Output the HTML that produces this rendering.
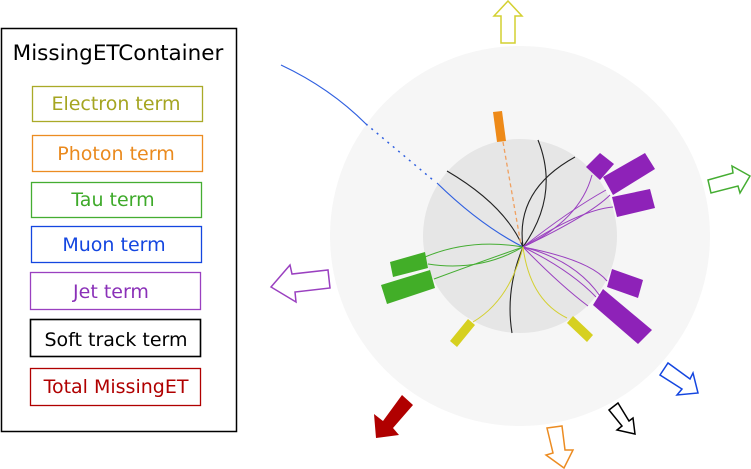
<!DOCTYPE html>
<html><head><meta charset="utf-8"><style>
html,body{margin:0;padding:0;background:#fff;}
svg{display:block;}
text{font-family:"DejaVu Sans","Liberation Sans",sans-serif;}
</style></head><body>
<svg width="751" height="469" viewBox="0 0 751 469" xmlns="http://www.w3.org/2000/svg">
<!-- legend -->
<rect x="1.5" y="28.5" width="235" height="403" fill="#fff" stroke="#000" stroke-width="1.5"/>
<text x="118" y="60" font-size="21.5" text-anchor="middle" fill="#000">MissingETContainer</text>
<g fill="none" stroke-width="1.3">
<rect x="32.5" y="86.5" width="170" height="35" stroke="#aaaa28"/>
<rect x="32.5" y="135.5" width="170" height="36" stroke="#ec8c22"/>
<rect x="31.5" y="182.5" width="170" height="35" stroke="#45ad32"/>
<rect x="31.5" y="226.5" width="170" height="36" stroke="#1446e0"/>
<rect x="30.5" y="272.5" width="170" height="37" stroke="#9a40c0"/>
<rect x="30.5" y="319.5" width="170" height="37" stroke="#000" stroke-width="1.6"/>
<rect x="30.5" y="368.5" width="170" height="37" stroke="#b00000"/>
</g>
<g font-size="19" text-anchor="middle">
<text x="116" y="110" fill="#a5a521">Electron term</text>
<text x="116" y="160" fill="#ea8a1e">Photon term</text>
<text x="113" y="206" fill="#3eaa2a">Tau term</text>
<text x="114" y="251" fill="#1446e0">Muon term</text>
<text x="111" y="298" fill="#8a30b8">Jet term</text>
<text x="116" y="346" fill="#000">Soft track term</text>
<text x="116" y="393" fill="#b00000">Total MissingET</text>
</g>
<!-- detector -->
<circle cx="520" cy="236" r="190" fill="#f6f6f6"/>
<circle cx="520" cy="236" r="97" fill="#e6e6e6"/>
<!-- blue muon -->
<path d="M281,65 Q330,88 366,124" fill="none" stroke="#3060e0" stroke-width="1.2"/>
<path d="M366,124 L433,180" fill="none" stroke="#3060e0" stroke-width="1.5" stroke-dasharray="2,5"/>
<path d="M437,183 Q480,225 523,247" fill="none" stroke="#3060e0" stroke-width="1.2"/>
<!-- black -->
<g fill="none" stroke="#222" stroke-width="1.1">
<path d="M447,171 Q505,205 523,247"/>
<path d="M575,157 Q515,190 523,247"/>
<path d="M538,140 Q560,195 523,247 Q505,290 512,333"/>
</g>
<!-- orange dashed -->
<path d="M503,142 L521,245" stroke="#f0a060" stroke-width="1.3" stroke-dasharray="4,3" fill="none"/>
<!-- green tracks -->
<g fill="none" stroke="#45ad32" stroke-width="1">
<path d="M425,257 Q470,238 523,247"/>
<path d="M428,264 Q480,272 523,247"/>
<path d="M434,279 Q480,262 523,247"/>
</g>
<!-- purple tracks -->
<g fill="none" stroke="#9a40c0" stroke-width="1">
<path d="M523,247 Q580,220 592,175"/>
<path d="M523,247 Q570,210 606,190"/>
<path d="M523,247 Q590,215 610,195"/>
<path d="M523,247 Q580,210 613,207"/>
<path d="M523,247 Q590,260 607,281"/>
<path d="M523,247 Q575,260 600,296"/>
<path d="M523,247 Q570,270 596,297"/>
<path d="M523,247 Q560,285 588,306"/>
</g>
<!-- yellow tracks -->
<g fill="none" stroke="#d4d030" stroke-width="1">
<path d="M523,247 Q510,300 473,322"/>
<path d="M523,247 Q530,300 567,318"/>
</g>
<!-- bars -->
<polygon points="493,112 502,111 506,141 497,142" fill="#ee8a18"/>
<g fill="#42ae28">
<polygon points="390,262 425,252 428,268 393,277"/>
<polygon points="381,285 430,270 435,288 387,304"/>
</g>
<g fill="#d6d020">
<polygon points="450,341 468,319 475,325 457,347"/>
<polygon points="567,323 573,316 593,335 587,342"/>
</g>
<g fill="#8e22b8">
<polygon points="586,167 600,153 614,164 600,180"/>
<polygon points="603,177 645,153 655,169 613,195"/>
<polygon points="612,197 650,189 655,208 617,217"/>
<polygon points="612,269 643,280 638,298 607,287"/>
<polygon points="593,305 603,289 652,330 638,344"/>
</g>
<!-- arrows -->
<g fill="#fff" stroke-width="1.5" stroke-linejoin="miter">
<polygon points="508,1 522,16 515,16 515,43 501,43 501,16 494,16" stroke="#d4d030"/>
<polygon points="708,180 733,173 732,166 750,176 740,193 738,186 711,193" stroke="#45ad32"/>
<polygon points="271,287 290,265 292,274 328,270 330,288 295,292 296,302" stroke="#9a40c0"/>
<polygon points="660,375 668,363 690,379 693,373 698,393 677,395 682,389" stroke="#1446e0"/>
<polygon points="609,410 618,403 629,421 633,418 635,434 617,430 622,426" stroke="#000"/>
<polygon points="547,428 562,426 565,450 573,450 564,468 546,455 553,453" stroke="#ec8c22"/>
</g>
<polygon points="376,438 374,414 383,421 402,395 413,405 393,428 399,435" fill="#b00000"/>
</svg>
</body></html>
